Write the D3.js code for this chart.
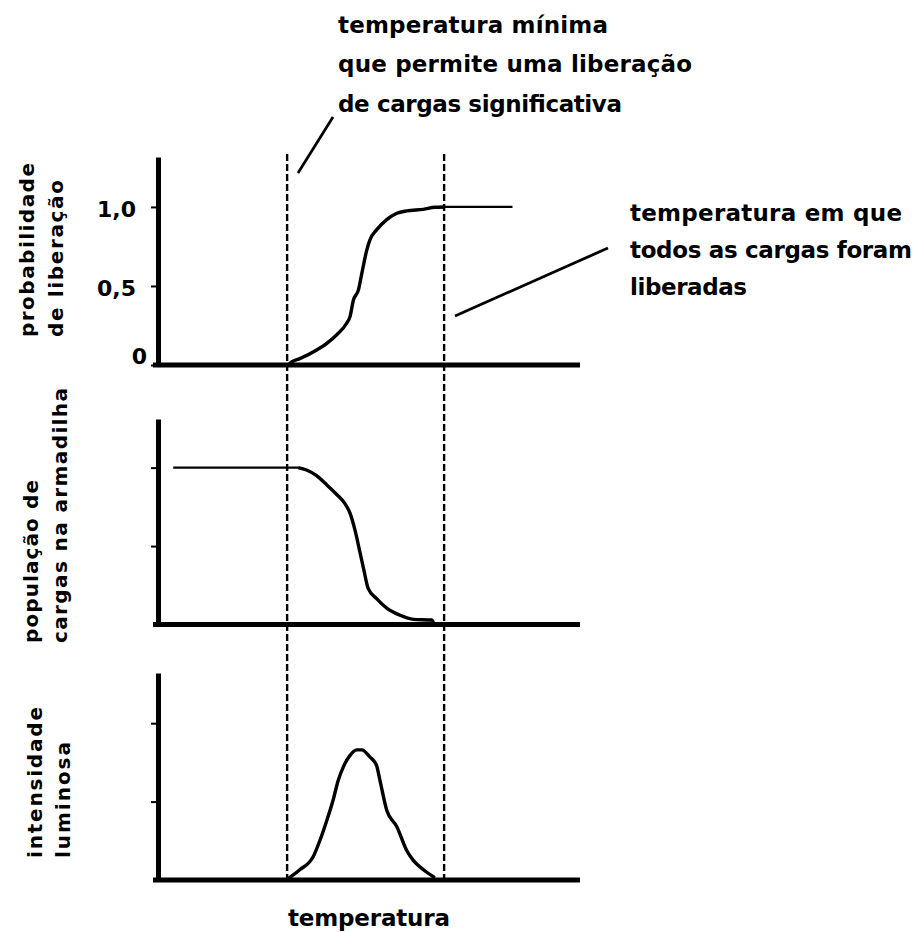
<!DOCTYPE html>
<html>
<head>
<meta charset="utf-8">
<script src="https://cdn.jsdelivr.net/npm/d3@7"></script>
<style>
  body { margin: 0; background: #fff; }
  text { font-family: "DejaVu Sans", sans-serif; fill: #000; font-weight: bold; }
</style>
</head>
<body>
<svg id="chart"></svg>
<script>
// DATA ////////////////////////////////////////////////////////////////////////////

// temperatures (arbitrary units) of the two dashed markers
var tempMarkers = [30.6, 67.8];

// probabilidade de liberação vs temperatura
var probTemp = [30.9, 31.7, 33.6, 37.6, 40.0, 42.3, 44.7, 45.5, 46.3, 47.5, 48.3, 49.5, 50.2, 51.8, 54.2, 56.6, 58.9, 62.9, 65.6, 67.8];
var probValue = [0, 0.02, 0.04, 0.095, 0.137, 0.19, 0.264, 0.306, 0.41, 0.475, 0.58, 0.73, 0.79, 0.855, 0.92, 0.96, 0.975, 0.985, 0.998, 1.0];
var probPlateauTemp = [67.8, 84.0];
var probPlateauValue = [1.0, 1.0];

// população de cargas na armadilha
var popPlateauTemp = [3.6, 33.2];
var popPlateauValue = [2.0, 2.0];
var popTemp = [33.2, 35.2, 37.5, 40.0, 42.3, 44.3, 45.5, 46.7, 47.9, 48.8, 49.8, 51.8, 54.2, 57.3, 60.5, 64.9, 65.4];
var popValue = [2.0, 1.97, 1.9, 1.78, 1.66, 1.54, 1.42, 1.2, 0.91, 0.69, 0.46, 0.33, 0.21, 0.12, 0.066, 0.057, 0.0];

// intensidade luminosa
var lumTemp = [30.9, 33.6, 36.8, 38.4, 40.0, 41.5, 42.7, 43.9, 45.5, 47.1, 48.3, 50.2, 51.8, 52.6, 54.2, 56.6, 58.9, 60.5, 62.9, 65.6];
var lumValue = [0.02, 0.13, 0.30, 0.51, 0.76, 1.02, 1.27, 1.44, 1.59, 1.66, 1.66, 1.57, 1.46, 1.27, 0.89, 0.68, 0.38, 0.25, 0.13, 0.03];

// tick values / labels
var probTicks = [0, 0.5, 1.0];
var probTickLabels = ["0", "0,5", "1,0"];
var popTicks = [1, 2];
var lumTicks = [1, 2];

// texts
var yLabels = [
    ["probabilidade", "de liberação"],
    ["população de", "cargas na armadilha"],
    ["intensidade", "luminosa"]
];
var noteMin = ["temperatura mínima", "que permite uma liberação", "de cargas significativa"];
var noteMax = ["temperatura em que", "todos as cargas foram", "liberadas"];
var xLabel = "temperatura";

// SETUP ///////////////////////////////////////////////////////////////////////////

var WIDTH = 914, HEIGHT = 932;

var svg = d3.select("#chart")
    .attr("width", WIDTH)
    .attr("height", HEIGHT);

svg.append("rect").attr("width", WIDTH).attr("height", HEIGHT).attr("fill", "#fff");

var x = d3.scaleLinear().domain([0, 100]).range([158, 580]);

// one y scale per panel
var panels = [
    { y: d3.scaleLinear().domain([0, 1.316]).range([365, 157]), ticks: probTicks, labels: probTickLabels },
    { y: d3.scaleLinear().domain([0, 2.62]).range([624.5, 419]), ticks: popTicks, labels: null },
    { y: d3.scaleLinear().domain([0, 2.64]).range([880, 673]), ticks: lumTicks, labels: null }
];

function zipPts(ts, vs) { return ts.map(function (t, i) { return [t, vs[i]]; }); }

// AXES ////////////////////////////////////////////////////////////////////////////

panels.forEach(function (p, pi) {
    var yAxis = d3.axisLeft(p.y)
        .tickValues(p.ticks)
        .tickSizeOuter(0)
        .tickSizeInner(7)
        .tickPadding(10)
        .tickFormat(function (d, i) { return p.labels ? p.labels[i] : ""; });

    var gy = svg.append("g")
        .attr("transform", "translate(" + x.range()[0] + ",0)")
        .call(yAxis);
    gy.select(".domain").attr("stroke", "#000").attr("stroke-width", 5);
    gy.selectAll(".tick line").attr("stroke", "#000").attr("stroke-width", 2);
    gy.selectAll(".tick text")
        .style("font-family", '"DejaVu Sans", sans-serif')
        .style("font-weight", "bold")
        .attr("font-size", 22)
        .attr("fill", "#000")
        .attr("dy", function (d) { return d === 0 ? "-0.05em" : "0.45em"; })
        .attr("x", function (d) { return d === 0 ? -11 : -22; });

    var gx = svg.append("g")
        .attr("transform", "translate(0," + p.y(0) + ")")
        .call(d3.axisBottom(x).tickValues([]).tickSizeOuter(0));
    gx.select(".domain")
        .attr("stroke", "#000").attr("stroke-width", 5)
        .attr("d", "M" + (x.range()[0] - 5) + ",0H" + x.range()[1]);

    // rotated y labels
    var lab = yLabels[pi];
    var base = [[34, 63, 337], [38, 67, 643], [42, 70, 858]][pi];
    var lens = [[174, 157], [163, 255], [151, 116]][pi];
    lab.forEach(function (s, li) {
        svg.append("text")
            .attr("transform", "translate(" + base[li] + "," + base[2] + ") rotate(-90)")
            .attr("font-size", 20)
            .attr("textLength", lens[li])
            .attr("lengthAdjust", "spacing")
            .text(s);
    });
});

// DASHED MARKERS ///////////////////////////////////////////////////////////////////

svg.selectAll("line.marker")
    .data(tempMarkers)
    .enter().append("line")
    .attr("class", "marker")
    .attr("x1", function (d) { return x(d); })
    .attr("x2", function (d) { return x(d); })
    .attr("y1", 154)
    .attr("y2", panels[2].y(0))
    .attr("stroke", "#000")
    .attr("stroke-width", 2.4)
    .attr("stroke-dasharray", "7,3");

// CURVES ///////////////////////////////////////////////////////////////////////////

function drawCurve(p, pts, w) {
    var line = d3.line()
        .x(function (d) { return x(d[0]); })
        .y(function (d) { return p.y(d[1]); })
        .curve(d3.curveMonotoneX);
    svg.append("path")
        .datum(pts)
        .attr("d", line)
        .attr("fill", "none")
        .attr("stroke", "#000")
        .attr("stroke-width", w)
        .attr("stroke-linejoin", "round");
}

drawCurve(panels[0], zipPts(probTemp, probValue), 3.4);
drawCurve(panels[0], zipPts(probPlateauTemp, probPlateauValue), 2.2);
drawCurve(panels[1], zipPts(popPlateauTemp, popPlateauValue), 2.2);
drawCurve(panels[1], zipPts(popTemp, popValue), 3.4);
drawCurve(panels[2], zipPts(lumTemp, lumValue), 3.4);

// ANNOTATIONS //////////////////////////////////////////////////////////////////////

var noteMinLens = [270, 354, 284];
noteMin.forEach(function (s, i) {
    svg.append("text")
        .attr("x", 338).attr("y", 33 + i * 39.3)
        .attr("font-size", 23)
        .attr("textLength", noteMinLens[i])
        .attr("lengthAdjust", "spacing")
        .text(s);
});

var noteMaxLens = [272, 282, 117];
noteMax.forEach(function (s, i) {
    svg.append("text")
        .attr("x", 630).attr("y", 221 + i * 37)
        .attr("font-size", 23)
        .attr("textLength", noteMaxLens[i])
        .attr("lengthAdjust", "spacing")
        .text(s);
});

// leader lines
svg.append("line")
    .attr("x1", 333).attr("y1", 117).attr("x2", 298).attr("y2", 173)
    .attr("stroke", "#000").attr("stroke-width", 2.8);
svg.append("line")
    .attr("x1", 455).attr("y1", 316).attr("x2", 608).attr("y2", 248)
    .attr("stroke", "#000").attr("stroke-width", 2.8);

svg.append("text")
    .attr("x", 288).attr("y", 926)
    .attr("font-size", 23)
    .attr("textLength", 162)
    .attr("lengthAdjust", "spacing")
    .text(xLabel);
</script>
</body>
</html>
